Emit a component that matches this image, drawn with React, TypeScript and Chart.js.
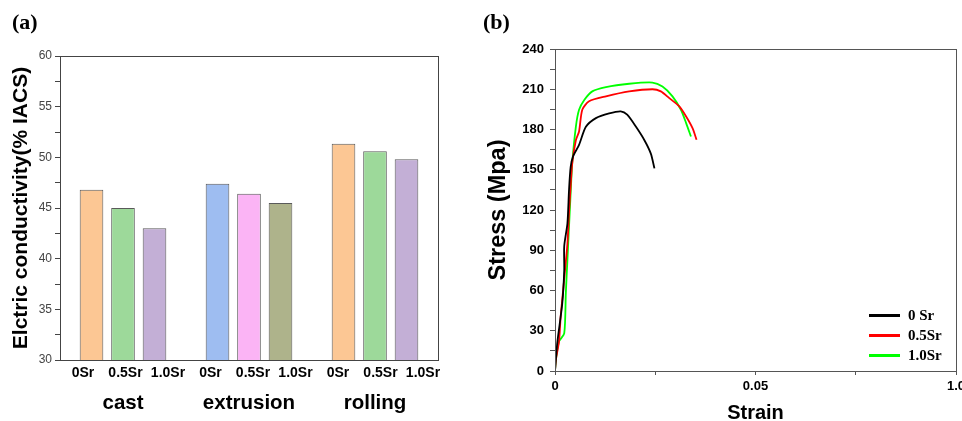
import React, { useEffect, useRef } from "react";
import { Chart, registerables } from "chart.js";

Chart.register(...registerables);

// ---------- Panel (a) data ----------
const processes = ["cast", "extrusion", "rolling"];
const srLabels = ["0Sr", "0.5Sr", "1.0Sr"];
const castValues = [46.8, 45.0, 43.0];
const extrusionValues = [47.4, 46.4, 45.5];
const rollingValues = [51.35, 50.6, 49.8];
const castColors = ["#FCC794", "#9DD99A", "#C3AFD6"];
const extrusionColors = ["#9EBDF1", "#FBB4F5", "#AEB38B"];
const rollingColors = ["#FCC794", "#9DD99A", "#C3AFD6"];

// ---------- Panel (b) data ----------
const strain0Sr = [0, 0.0002, 0.0006, 0.0018, 0.0023, 0.0023, 0.0031, 0.0035, 0.0039, 0.0045, 0.006, 0.0077, 0.0102, 0.0135, 0.0164, 0.018, 0.0202, 0.0223, 0.0239, 0.0248];
const stress0Sr = [0, 8, 22, 50, 75, 93, 110, 135, 152, 160, 168.6, 182, 188.5, 192, 193.5, 191, 182, 172, 162, 151];
const strain05Sr = [0, 0.0002, 0.001, 0.0014, 0.0018, 0.0025, 0.0031, 0.0035, 0.0039, 0.0043, 0.0052, 0.006, 0.0068, 0.0085, 0.0127, 0.0185, 0.0243, 0.0264, 0.0285, 0.031, 0.0327, 0.0343, 0.0353];
const stress05Sr = [0, 8, 22, 40, 53, 75, 95, 118, 137.5, 155, 172, 178.5, 194.7, 201, 204.7, 208.4, 210, 208.4, 203.4, 197.2, 189.7, 181, 172.3];
const strain10Sr = [0, 0.0002, 0.001, 0.0023, 0.0027, 0.0031, 0.0035, 0.0039, 0.0043, 0.0052, 0.006, 0.0073, 0.0093, 0.0127, 0.0185, 0.0243, 0.0268, 0.0293, 0.0314, 0.0327, 0.0339];
const stress10Sr = [0, 8, 22, 28, 58, 83, 108, 132.5, 155, 182, 194.7, 202, 208.4, 211.6, 214.1, 215, 212, 204.7, 194.7, 184.8, 174.8];
const seriesNames = ["0 Sr", "0.5Sr", "1.0Sr"];
const seriesColors = ["#000000", "#FF0000", "#00FF00"];
const strainTickLabels = ["0", "", "0.05", "", "1.0"];

const SANS = "'Liberation Sans', Arial, sans-serif";
const SERIF = "'Liberation Serif', 'Times New Roman', serif";

const framePlugin = {
  id: "frame",
  afterDraw(chart: any, _args: any, opts: any) {
    const { ctx, chartArea } = chart;
    ctx.save();
    ctx.strokeStyle = opts.color || "#444";
    ctx.lineWidth = 1;
    ctx.strokeRect(
      Math.round(chartArea.left) + 0.5,
      Math.round(chartArea.top) + 0.5,
      Math.round(chartArea.right - chartArea.left),
      Math.round(chartArea.bottom - chartArea.top)
    );
    ctx.restore();
  },
};

const noPad = (s: any) => {
  s.paddingLeft = 0;
  s.paddingRight = 0;
  s.paddingTop = 0;
  s.paddingBottom = 0;
};

function BarPanel() {
  const ref = useRef<HTMLCanvasElement>(null);
  useEffect(() => {
    const slotLabels: string[] = [""];
    const slotValues: (number | null)[] = [null];
    const slotColors: string[] = ["#fff"];
    const groups = [castValues, extrusionValues, rollingValues];
    const colors = [castColors, extrusionColors, rollingColors];
    const subLabels: string[] = [];
    groups.forEach((vals, g) => {
      vals.forEach((v, i) => {
        slotLabels.push(srLabels[i]);
        slotValues.push(v);
        slotColors.push(colors[g][i]);
        subLabels.push(srLabels[i]);
      });
      slotLabels.push("");
      slotValues.push(null);
      slotColors.push("#fff");
    });
    const chart = new Chart(ref.current!, {
      type: "bar",
      data: {
        labels: slotLabels,
        datasets: [
          {
            data: slotValues as any,
            backgroundColor: slotColors,
            borderColor: "#5a5a5a",
            borderWidth: 1,
            categoryPercentage: 1,
            barPercentage: 0.75,
            xAxisID: "x",
          },
        ],
      },
      options: {
        responsive: false,
        animation: false,
        layout: { padding: { top: 56, right: 42, left: 0, bottom: 0 }, autoPadding: false },
        plugins: { legend: { display: false }, tooltip: { enabled: false }, frame: { color: "#444" } } as any,
        scales: {
          x: {
            type: "category",
            offset: false,
            grid: { display: false, drawTicks: false },
            border: { display: true, color: "#444" },
            ticks: { display: false },
            afterFit: (s: any) => {
              s.height = 0;
              noPad(s);
            },
          },
          xs: {
            type: "linear",
            position: "bottom",
            offset: false,
            bounds: "data",
            min: -0.541,
            max: 8.353,
            afterBuildTicks: (s: any) => {
              s.ticks = subLabels.map((_l, i) => ({ value: i }));
            },
            grid: { display: false, drawTicks: false, offset: false },
            border: { display: false },
            ticks: {
              autoSkip: false,
              maxRotation: 0,
              padding: 5,
              color: "#000",
              font: { family: SANS, size: 14, weight: "bold" },
              callback: (_v: any, i: number) => subLabels[i] ?? "",
            },
            afterFit: (s: any) => {
              s.height = 24;
              noPad(s);
            },
          },
          x2: {
            type: "category",
            labels: processes,
            offset: true,
            position: "bottom",
            grid: { display: false, drawTicks: false },
            border: { display: false },
            ticks: {
              padding: 7,
              color: "#000",
              font: { family: SANS, size: 20.5, weight: "bold" },
            },
            afterFit: (s: any) => {
              s.height = 37;
              noPad(s);
            },
          },
          y: {
            min: 30,
            max: 60,
            ticks: {
              stepSize: 2.5,
              padding: 3,
              color: "#444",
              font: { family: SANS, size: 12 },
              callback: (v: any) => (Number(v) % 5 === 0 ? String(v) : ""),
            },
            grid: { drawOnChartArea: false, tickLength: 5, color: "#444" },
            border: { color: "#444" },
            title: {
              display: true,
              text: "Elctric conductivity(% IACS)",
              color: "#000",
              font: { family: SANS, size: 21, weight: "bold" },
              padding: { top: 8.4, bottom: 0 },
            },
            afterFit: (s: any) => {
              s.width = 60;
              noPad(s);
            },
          },
        },
      },
      plugins: [framePlugin],
    });
    return () => chart.destroy();
  }, []);
  return <canvas ref={ref} width={480} height={421} style={{ display: "block" }} />;
}

function LinePanel() {
  const ref = useRef<HTMLCanvasElement>(null);
  useEffect(() => {
    const strains = [strain0Sr, strain05Sr, strain10Sr];
    const stresses = [stress0Sr, stress05Sr, stress10Sr];
    const chart = new Chart(ref.current!, {
      type: "scatter",
      data: {
        datasets: seriesNames.map((name, k) => ({
          label: name,
          data: strains[k].map((x, i) => ({ x, y: stresses[k][i] })),
          showLine: true,
          borderColor: seriesColors[k],
          backgroundColor: seriesColors[k],
          borderWidth: 1.8,
          pointRadius: 0,
          tension: 0.25,
        })),
      },
      options: {
        responsive: false,
        animation: false,
        layout: { padding: { top: 49, right: 6, left: 0, bottom: 0 }, autoPadding: false },
        plugins: { legend: { display: false }, tooltip: { enabled: false }, frame: { color: "#555" } } as any,
        scales: {
          x: {
            type: "linear",
            min: 0,
            max: 0.1,
            ticks: {
              stepSize: 0.025,
              padding: 4,
              color: "#000",
              maxRotation: 0,
              font: { family: SANS, size: 13, weight: "bold" },
              callback: (_v: any, i: number) => strainTickLabels[i] ?? "",
            },
            grid: { drawOnChartArea: false, tickLength: 4, color: "#555" },
            border: { color: "#555" },
            title: {
              display: true,
              text: "Strain",
              color: "#000",
              font: { family: SANS, size: 20, weight: "bold" },
              padding: { top: 0, bottom: -4 },
            },
            afterFit: (s: any) => {
              s.height = 50;
              noPad(s);
            },
          },
          y: {
            min: 0,
            max: 240,
            ticks: {
              stepSize: 15,
              padding: 6,
              color: "#000",
              font: { family: SANS, size: 13, weight: "bold" },
              callback: (v: any) => (Number(v) % 30 === 0 ? String(v) : ""),
            },
            grid: { drawOnChartArea: false, tickLength: 5, color: "#555" },
            border: { color: "#555" },
            title: {
              display: true,
              text: "Stress (Mpa)",
              color: "#000",
              font: { family: SANS, size: 23.5, weight: "bold" },
              padding: { top: 4, bottom: 0 },
            },
            afterFit: (s: any) => {
              s.width = 75;
              noPad(s);
            },
          },
        },
      },
      plugins: [framePlugin],
    });
    return () => chart.destroy();
  }, []);
  return <canvas ref={ref} width={482} height={421} style={{ display: "block" }} />;
}

export default function App() {
  const legendTops = [315, 335, 355];
  return (
    <div style={{ position: "absolute", left: 0, top: 0, width: 962, height: 421, background: "#fff", overflow: "hidden" }}>
      <div style={{ position: "absolute", left: 0, top: 0 }}>
        <BarPanel />
      </div>
      <div style={{ position: "absolute", left: 480, top: 0 }}>
        <LinePanel />
      </div>
      <div style={{ position: "absolute", left: 12, top: 9, font: `bold 22px ${SERIF}`, color: "#000" }}>(a)</div>
      <div style={{ position: "absolute", left: 483, top: 9, font: `bold 22px ${SERIF}`, color: "#000" }}>(b)</div>
      {seriesNames.map((n, i) => (
        <div key={n} style={{ position: "absolute", left: 869, top: legendTops[i] - 9, height: 18, display: "flex", alignItems: "center" }}>
          <div style={{ width: 31, height: 3, background: seriesColors[i] }} />
          <span style={{ marginLeft: 8, font: `bold 15px ${SERIF}`, color: "#000" }}>{n}</span>
        </div>
      ))}
    </div>
  );
}
